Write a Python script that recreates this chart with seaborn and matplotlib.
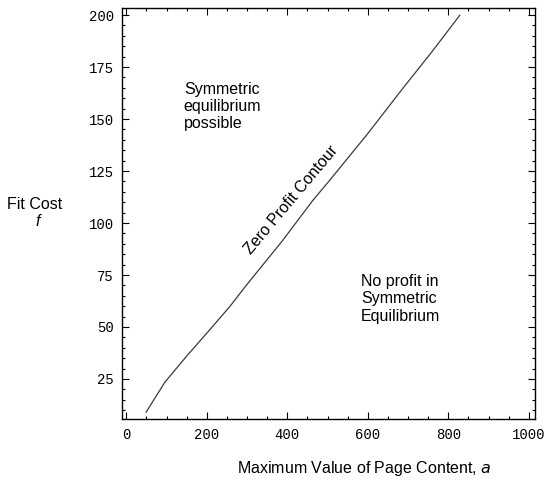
import matplotlib.pyplot as plt
import pandas as pd
import seaborn as sns
from matplotlib.ticker import MultipleLocator

# Zero profit contour
a_values = [49, 96, 150, 207, 257, 300, 386, 464, 506, 600, 684, 760, 829]
f_values = [9, 23.5, 36, 48.6, 59.8, 70.5, 91, 111, 120.7, 143, 164, 182.5, 200]

x_ticks = [0, 200, 400, 600, 800, 1000]
y_ticks = [25, 50, 75, 100, 125, 150, 175, 200]

df = pd.DataFrame({'a': a_values, 'f': f_values})

sns.set_style('ticks')
plt.rcParams['font.family'] = ['Liberation Sans', 'DejaVu Sans']
plt.rcParams['text.color'] = 'black'
plt.rcParams['xtick.color'] = 'black'
plt.rcParams['ytick.color'] = 'black'

fig = plt.figure(figsize=(5.44, 4.97), dpi=100)
ax = fig.add_axes([0.2248, 0.1563, 0.759, 0.8276])

sns.lineplot(data=df, x='a', y='f', sort=False, color='#3a3a3a', linewidth=0.9, ax=ax)

ax.set_xlim(-10, 1016)
ax.set_ylim(5.6, 203.4)
ax.set_xticks(x_ticks)
ax.set_yticks(y_ticks)
ax.xaxis.set_minor_locator(MultipleLocator(50))
ax.yaxis.set_minor_locator(MultipleLocator(5))
ax.tick_params(which='both', direction='in', top=True, right=True, color='black',
               labelcolor='black', width=0.8)
ax.tick_params(which='major', length=5, pad=6)
ax.tick_params(which='minor', length=2.5)
for lab in ax.get_xticklabels() + ax.get_yticklabels():
    lab.set_family('Liberation Mono')
    lab.set_fontsize(10)
for sp in ax.spines.values():
    sp.set_linewidth(1.0)
    sp.set_color('black')

ax.set_xlabel('')
ax.set_ylabel('')

# Region labels
ax.text(143, 168, 'Symmetric\nequilibrium\npossible', fontsize=11.5, va='top', ha='left',
        multialignment='left', linespacing=1.2)
ax.text(583, 75.5, 'No profit in\nSymmetric\nEquilibrium', fontsize=11.5, va='top', ha='left',
        multialignment='left', linespacing=1.2)
ax.text(409, 111, 'Zero Profit Contour', fontsize=11.5, rotation=50, ha='center', va='center',
        rotation_mode='anchor')

# Axis titles
fig.text(35 / 544, 1 - 205 / 497, 'Fit Cost', fontsize=11.5, ha='center', va='center')
fig.text(38 / 544, 1 - 222 / 497, 'f', fontsize=11.5, ha='center', va='center', style='italic')
fig.text(364 / 544, 1 - 469 / 497, 'Maximum Value of Page Content, $\\mathit{a}$', fontsize=11.5,
         ha='center', va='center')

fig.savefig('out.png', dpi=100)
